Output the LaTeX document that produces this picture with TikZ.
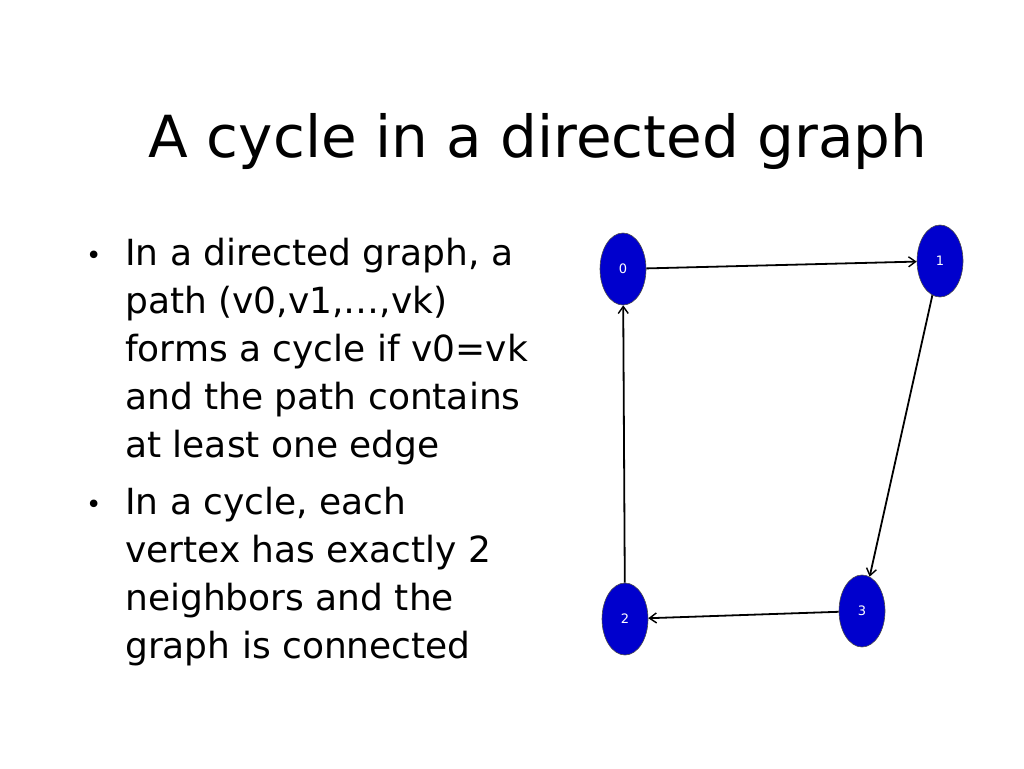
\documentclass[tikz,border=0pt]{standalone}
\usepackage{fontspec}
\setmainfont{DejaVu Sans}
\usetikzlibrary{shapes.geometric,arrows.meta}
\definecolor{vblue}{RGB}{0,0,205}
\begin{document}
\begin{tikzpicture}[x=1pt,y=-1pt,
  vert/.style={ellipse,draw=black!70,line width=0.6pt,fill=vblue,text=white,
    minimum width=46pt,minimum height=72pt,inner sep=0pt,font=\fontsize{13}{13}\selectfont},
  edge/.style={draw=black,line width=1.8pt,-{Straight Barb[length=7pt,width=10pt,line width=1.4pt]}},
  body/.style={anchor=base west,align=left,inner sep=0pt,font=\fontsize{36}{48}\selectfont},
  bul/.style={anchor=base west,inner sep=0pt,font=\fontsize{26}{48}\selectfont}]
\useasboundingbox (0,0) rectangle (1024,768);
\fill[white] (0,0) rectangle (1024,768);
\node[anchor=base,inner sep=0pt,font=\fontsize{58}{60}\selectfont] (title) at (538,157) {A cycle in a directed graph};
\node[bul] (b1) at (86,264) {•};
\node[body] (t1) at (125,457) {In a directed graph, a\\path (v0,v1,…,vk)\\forms a cycle if v0=vk\\and the path contains\\at least one edge};
\node[bul] (b2) at (86,513) {•};
\node[body] (t2) at (125,658) {In a cycle, each\\vertex has exactly 2\\neighbors and the\\graph is connected};
\node[vert] (n0) at (623,269) {0};
\node[vert] (n1) at (940,261) {1};
\node[vert] (n2) at (625,619) {2};
\node[vert] (n3) at (862,611) {3};
\draw[edge] (n0) -- (n1);
\draw[edge] (n1) -- (n3);
\draw[edge] (n3) -- (n2);
\draw[edge] (n2) -- (n0);
\end{tikzpicture}
\end{document}
